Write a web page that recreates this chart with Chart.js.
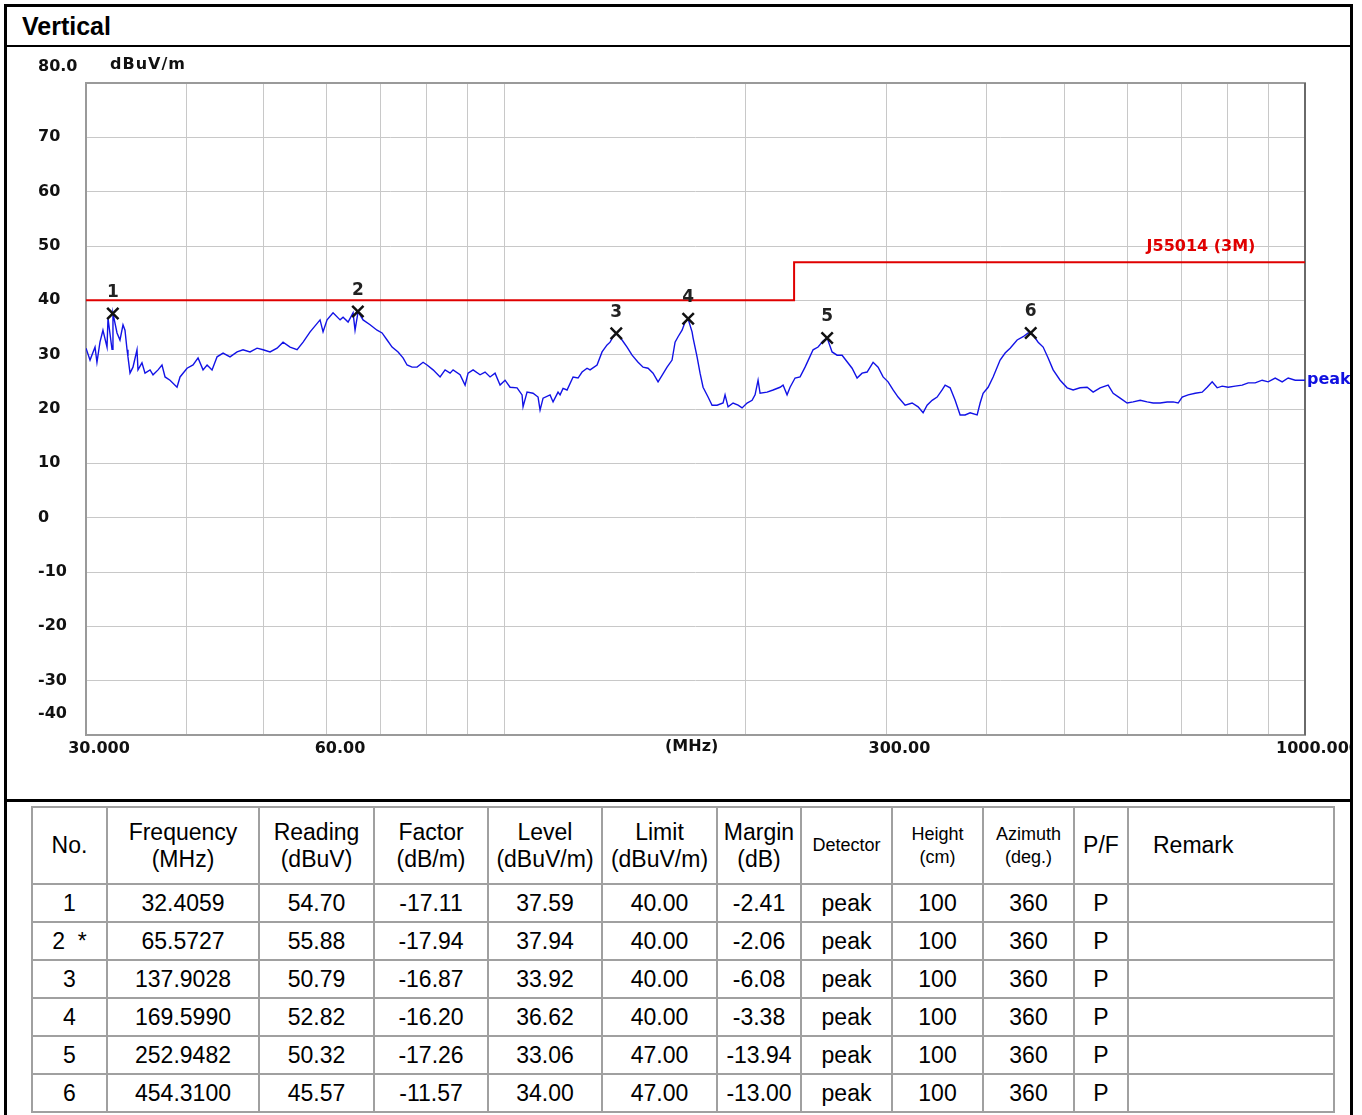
<!DOCTYPE html>
<html>
<head>
<meta charset="utf-8">
<title>Vertical</title>
<script src="https://cdn.jsdelivr.net/npm/chart.js@4.4.0/dist/chart.umd.min.js"></script>
<style>
  body { margin: 0; background: #fff; }
  #box { position: absolute; left: 4px; top: 4px; width: 1343px; height: 1120px; border: 3px solid #000; overflow: hidden; background: #fff; }
  #title { position: absolute; left: 0; top: 0; width: 100%; height: 38px; border-bottom: 2px solid #000;
           font: bold 25px "Liberation Sans", Arial, sans-serif; line-height: 38px; padding-left: 15px; box-sizing: content-box; }
  #chartWrap { position: absolute; left: 0; top: 41px; width: 1400px; height: 750px; }
  #sep { position: absolute; left: 0; top: 792px; width: 100%; height: 3px; background: #000; }
  #tbl { position: absolute; left: 24px; top: 799px; border-collapse: collapse; table-layout: fixed; width: 1302px;
         font-family: "Liberation Sans", Arial, sans-serif; color: #000; }
  #tbl td, #tbl th { border: 2px solid #a0a0a0; text-align: center; padding: 0; font-weight: normal; }
  #tbl th { height: 75px; font-size: 23px; line-height: 27px; }
  #tbl th.small { font-size: 18px; line-height: 23px; }
  #tbl th.remark { text-align: left; padding-left: 24px; }
  #tbl td { height: 36px; font-size: 23px; }
</style>
</head>
<body>
<div id="box">
  <div id="title">Vertical</div>
  <div id="chartWrap"><canvas id="emiChart" width="1400" height="750"></canvas></div>
  <div id="sep"></div>
  <table id="tbl"></table>
</div>
<script>
// measured trace (MHz, dBuV/m)
const freqs = [
  30.00, 30.35, 30.79, 30.96, 31.23, 31.50, 31.87, 31.96, 32.33, 32.42, 32.80, 33.08, 33.37, 33.56, 33.76, 33.85,
  34.05, 34.34, 34.74, 34.84, 35.24, 35.55, 36.07, 36.38, 36.91, 37.33, 37.66, 38.20, 38.98, 39.32, 40.12, 40.82,
  41.41, 42.01, 42.50, 43.11, 43.74, 44.50, 45.40, 46.33, 47.13, 48.09, 49.07, 49.93, 50.94, 51.98, 52.88, 53.96,
  55.06, 56.02, 57.16, 58.82, 59.33, 60.02, 61.06, 62.31, 62.85, 63.76, 64.68, 65.05, 65.62, 66.57, 67.92, 69.30,
  70.31, 71.33, 72.36, 73.62, 74.68, 75.55, 76.64, 77.75, 79.11, 80.02, 81.42, 83.08, 84.28, 85.50, 86.24, 87.99,
  89.27, 90.04, 91.35, 93.20, 94.55, 95.92, 97.31, 98.72, 100.15, 101.60, 103.67, 105.17, 105.47, 106.69, 108.55,
  110.12, 110.76, 111.72, 113.99, 114.98, 116.64, 117.32, 118.33, 119.70, 121.79, 123.55, 124.98, 126.79, 127.89,
  130.49, 132.38, 134.30, 135.47, 136.64, 137.82, 138.62, 140.22, 142.25, 144.32, 146.83, 148.96, 151.11, 153.30,
  155.52, 157.32, 159.60, 161.91, 163.32, 164.73, 166.64, 168.08, 169.54, 171.50, 172.00, 173.99, 175.49, 177.02,
  179.58, 181.66, 184.29, 187.50, 188.58, 190.22, 192.98, 195.77, 198.04, 200.91, 203.82, 205.58, 207.36, 208.56,
  212.80, 216.51, 220.91, 222.82, 225.40, 227.36, 230.65, 233.99, 237.38, 239.44, 242.91, 246.43, 250.00, 252.90,
  256.57, 260.28, 264.06, 267.88, 271.76, 275.70, 279.70, 283.75, 288.69, 292.87, 297.11, 301.41, 305.78, 310.21,
  316.53, 322.97, 328.59, 333.35, 337.21, 342.11, 347.07, 352.10, 355.15, 360.30, 365.52, 370.82, 376.19, 381.64,
  389.41, 392.78, 396.17, 401.92, 407.74, 416.03, 422.06, 428.18, 436.90, 444.50, 450.94, 453.54, 457.47, 464.10,
  470.83, 477.65, 484.57, 494.42, 504.47, 513.26, 523.70, 534.35, 543.66, 554.72, 567.63, 575.86, 587.57, 599.53,
  609.97, 622.39, 635.05, 646.10, 659.26, 672.67, 684.38, 694.30, 702.34, 714.57, 729.11, 743.94, 754.72, 765.65,
  776.75, 788.01, 801.73, 818.04, 834.67, 849.22, 866.48, 884.10, 899.51, 917.80, 936.47, 952.79, 972.16, 994.79, 1000
];
const levels = [
  31.2, 29.0, 31.4, 28.6, 32.3, 34.5, 31.4, 36.7, 31.0, 37.6, 34.0, 32.7, 35.5, 34.5, 30.9, 29.6,
  26.6, 27.7, 30.9, 27.2, 28.5, 26.6, 27.2, 26.3, 27.2, 28.1, 25.9, 25.3, 24.0, 25.9, 27.5, 28.1,
  29.4, 27.2, 28.1, 27.2, 29.6, 30.3, 29.6, 30.5, 30.9, 30.5, 31.2, 30.9, 30.5, 31.2, 32.3, 31.4,
  30.9, 32.3, 34.2, 36.4, 34.2, 36.4, 37.7, 36.4, 36.9, 36.0, 37.7, 34.5, 37.9, 36.4, 35.5, 34.5,
  34.0, 32.7, 31.4, 30.5, 29.4, 28.1, 27.7, 27.7, 28.6, 28.1, 27.2, 25.9, 27.2, 26.6, 27.2, 26.3,
  24.4, 26.6, 27.2, 26.3, 26.8, 25.9, 26.6, 24.4, 25.3, 24.0, 23.9, 22.6, 20.4, 23.1, 22.9,
  22.2, 19.8, 22.0, 22.6, 21.3, 23.1, 22.6, 23.8, 23.5, 25.9, 25.7, 26.8, 27.5, 27.2,
  28.1, 30.5, 31.8, 32.3, 33.3, 33.9, 33.6, 32.7, 31.4, 29.9, 28.6, 27.7, 27.5, 26.6,
  25.0, 26.2, 27.7, 29.0, 32.3, 33.3, 34.5, 36.0, 36.6, 34.2, 33.1, 29.6, 26.6, 24.0,
  22.2, 20.7, 20.7, 21.1, 22.6, 20.4, 21.1, 20.7, 20.2, 21.1, 21.6, 22.6, 25.3, 22.9,
  23.1, 23.5, 24.0, 24.4, 22.6, 24.0, 25.7, 25.9, 27.7, 28.9, 30.9, 31.4, 32.5, 33.1,
  30.5, 29.9, 29.9, 28.7, 27.5, 25.7, 26.6, 26.8, 28.6, 27.7, 25.9, 25.0, 23.5, 22.2,
  20.7, 21.1, 20.4, 19.3, 20.7, 21.6, 22.2, 23.5, 24.4, 23.9, 21.6, 18.9, 18.9, 19.3,
  18.9, 21.1, 22.9, 24.0, 25.9, 29.0, 30.3, 31.2, 32.7, 33.3, 34.0, 34.0, 33.6, 32.3,
  31.4, 29.4, 27.2, 25.3, 23.9, 23.5, 23.9, 24.0, 23.1, 23.9, 24.4, 22.9, 22.0, 21.1,
  21.3, 21.6, 21.3, 21.1, 21.1, 21.3, 21.3, 21.1, 22.2, 22.6, 22.9, 23.1, 24.0, 25.0,
  23.9, 24.2, 24.0, 24.2, 24.4, 24.8, 24.8, 25.3, 25.0, 25.7, 25.0, 25.7, 25.3, 25.3, 25.3
];

// limit line J55014 (3M)
const limitFreqs = [30, 230, 230, 1000];
const limitLevels = [40, 40, 47, 47];

// marker table
const markerNo = ['1', '2 *', '3', '4', '5', '6'];
const markerFreq = [32.4059, 65.5727, 137.9028, 169.5990, 252.9482, 454.3100];
const markerReading = ['54.70', '55.88', '50.79', '52.82', '50.32', '45.57'];
const markerFactor = ['-17.11', '-17.94', '-16.87', '-16.20', '-17.26', '-11.57'];
const markerLevel = [37.59, 37.94, 33.92, 36.62, 33.06, 34.00];
const markerLimit = ['40.00', '40.00', '40.00', '40.00', '47.00', '47.00'];
const markerMargin = ['-2.41', '-2.06', '-6.08', '-3.38', '-13.94', '-13.00'];

// axes
const xGridValues = [30, 40, 50, 60, 70, 80, 90, 100, 200, 300, 400, 500, 600, 700, 800, 900, 1000];
const xTickLabels = { 30: '30.000', 60: '60.00', 300: '300.00', 1000: '1000.000' };

const tickFont = { family: 'DejaVu Sans', weight: 'bold', size: 16 };

const overlay = {
    id: 'overlay',
    beforeDatasetsDraw(chart) {
        const { ctx, chartArea: a } = chart;
        ctx.save();
        ctx.strokeStyle = '#9a9a9a';
        ctx.lineWidth = 2;
        ctx.strokeRect(a.left, a.top, a.right - a.left, a.bottom - a.top);
        ctx.strokeStyle = '#6a6a6a';
        ctx.beginPath();
        ctx.moveTo(a.right, a.top);
        ctx.lineTo(a.right, a.bottom);
        ctx.stroke();
        ctx.restore();
    },
    afterDatasetsDraw(chart) {
        const { ctx, chartArea: a, scales: { x, y } } = chart;
        ctx.save();
        ctx.font = 'bold 16px "DejaVu Sans"';
        ctx.fillStyle = '#111';
        ctx.textBaseline = 'middle';
        ctx.textAlign = 'left';
        // end labels of the y axis
        ctx.fillText('80.0', 31, a.top - 16);
        ctx.fillText('-40', 31, a.bottom - 21);
        ctx.font = 'bold 16px "DejaVu Sans"';
        ctx.letterSpacing = '1px';
        ctx.fillText('dBuV/m', a.left + 24, a.top - 18);
        ctx.letterSpacing = '0px';
        // unit of x axis
        ctx.textAlign = 'center';
        ctx.textBaseline = 'top';
        ctx.fillText('(MHz)', x.getPixelForValue(165) + 13, a.bottom + 4);
        // marker numbers
        ctx.font = 'bold 17px "DejaVu Sans"';
        ctx.textBaseline = 'middle';
        ctx.fillStyle = '#222';
        markerFreq.forEach((f, i) => {
            ctx.fillText(String(i + 1), x.getPixelForValue(f), y.getPixelForValue(markerLevel[i]) - 21);
        });
        // limit name
        ctx.font = 'bold 16px "DejaVu Sans"';
        ctx.fillStyle = '#e00000';
        ctx.textBaseline = 'bottom';
        ctx.fillText('J55014 (3M)', a.right - 104, y.getPixelForValue(limitLevels[3]) - 7);
        // trace name
        ctx.fillStyle = '#1010e0';
        ctx.textAlign = 'left';
        ctx.textBaseline = 'middle';
        ctx.fillText('peak', a.right + 2, y.getPixelForValue(levels[levels.length - 1]));
        ctx.restore();
    }
};

new Chart(document.getElementById('emiChart'), {
    type: 'line',
    data: {
        datasets: [
            {
                label: 'peak',
                data: freqs.map((f, i) => ({ x: f, y: levels[i] })),
                borderColor: '#1212e6',
                borderWidth: 1.4,
                pointRadius: 0,
                tension: 0,
                order: 3
            },
            {
                label: 'J55014 (3M)',
                data: limitFreqs.map((f, i) => ({ x: f, y: limitLevels[i] })),
                borderColor: '#e00000',
                borderWidth: 2,
                pointRadius: 0,
                tension: 0,
                order: 2
            },
            {
                label: 'markers',
                data: markerFreq.map((f, i) => ({ x: f, y: markerLevel[i] })),
                showLine: false,
                pointStyle: 'crossRot',
                pointRadius: 8,
                borderColor: '#111',
                borderWidth: 2.5,
                order: 1
            }
        ]
    },
    options: {
        responsive: false,
        animation: false,
        devicePixelRatio: 1,
        layout: { padding: { left: 31, right: 102, top: 35, bottom: 0 } },
        plugins: { legend: { display: false }, tooltip: { enabled: false } },
        scales: {
            x: {
                type: 'logarithmic',
                min: 30,
                max: 1000,
                afterBuildTicks: s => { s.ticks = xGridValues.map(v => ({ value: v })); },
                afterFit: s => { s.height = 63; },
                ticks: {
                    callback: v => xTickLabels[v] || '',
                    autoSkip: false,
                    maxRotation: 0,
                    minRotation: 0,
                    labelOffset: 13,
                    padding: 4,
                    color: '#111',
                    font: tickFont
                },
                grid: { color: '#c8c8c8', lineWidth: 1, drawTicks: false },
                border: { display: false }
            },
            y: {
                min: -40,
                max: 80,
                afterFit: s => { s.width = 48; },
                ticks: {
                    stepSize: 10,
                    callback: v => (v === 80 || v === -40) ? '' : String(v),
                    crossAlign: 'far',
                    color: '#111',
                    font: tickFont
                },
                grid: { color: '#c8c8c8', lineWidth: 1, drawTicks: false },
                border: { display: false }
            }
        }
    },
    plugins: [overlay]
});

// results table
const tbl = document.getElementById('tbl');
const widths = [75, 152, 115, 114, 114, 115, 84, 91, 91, 91, 54, 206];
const heads = ['No.', 'Frequency<br>(MHz)', 'Reading<br>(dBuV)', 'Factor<br>(dB/m)', 'Level<br>(dBuV/m)', 'Limit<br>(dBuV/m)',
               'Margin<br>(dB)', 'Detector', 'Height<br>(cm)', 'Azimuth<br>(deg.)', 'P/F', 'Remark'];
let html = '<colgroup>' + widths.map(w => '<col style="width:' + w + 'px">').join('') + '</colgroup><tr>';
heads.forEach((h, i) => {
    let cls = (i >= 7 && i <= 9) ? 'small' : '';
    if (i === 11) cls = 'remark';
    html += '<th class="' + cls + '">' + h + '</th>';
});
html += '</tr>';
markerNo.forEach((n, i) => {
    const no = n.indexOf('*') > 0 ? n.replace(' *', '&nbsp;&nbsp;*') : n;
    html += '<tr><td>' + no + '</td><td>' + markerFreq[i].toFixed(4) + '</td><td>' + markerReading[i] + '</td><td>' +
        markerFactor[i] + '</td><td>' + markerLevel[i].toFixed(2) + '</td><td>' + markerLimit[i] + '</td><td>' +
        markerMargin[i] + '</td><td>peak</td><td>100</td><td>360</td><td>P</td><td></td></tr>';
});
tbl.innerHTML = html;
</script>
</body>
</html>
